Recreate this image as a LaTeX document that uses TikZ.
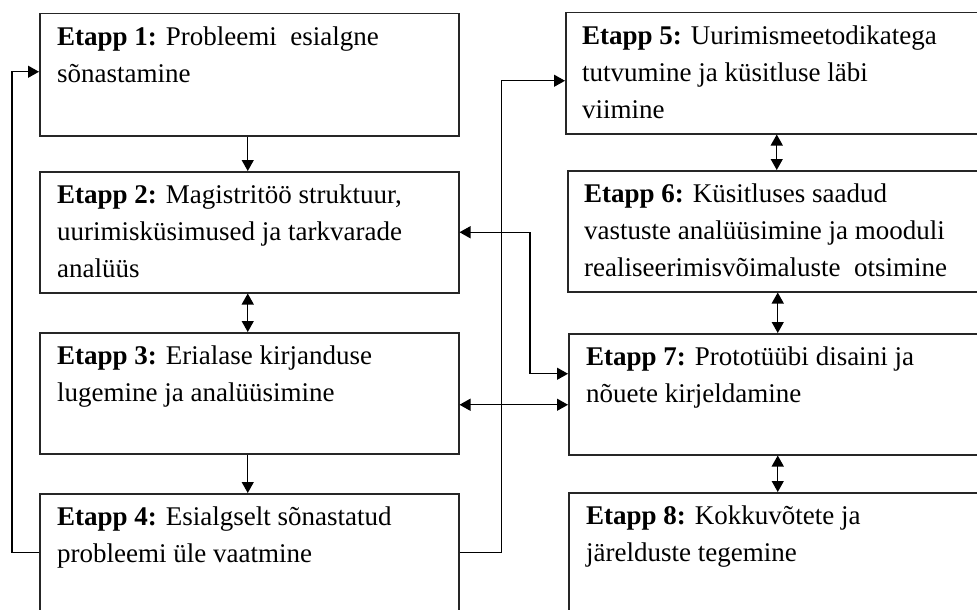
\documentclass[tikz,border=0pt]{standalone}
\usepackage{fontspec}
\setmainfont{Liberation Serif}
\usetikzlibrary{arrows.meta,calc}
\tikzset{
  box/.style={draw=black!85, line width=1.5pt, anchor=north west, minimum height=121pt, inner sep=0pt},
  boxL/.style={box, minimum width=419pt},
  boxR/.style={box, minimum width=430pt},
  txt/.style={anchor=north west, inner sep=0pt, align=left, text=black, font=\fontsize{27}{37}\selectfont},
  arr/.style={line width=1.2pt, -{Triangle[length=11pt,width=12pt]}},
  dbl/.style={line width=1.2pt, {Triangle[length=11pt,width=12pt]}-{Triangle[length=11pt,width=12pt]}}
}
\begin{document}
\begin{tikzpicture}[x=1pt,y=-1pt]
\useasboundingbox (0,0) rectangle (977,610);
\clip (0,0) rectangle (977,610);
\fill[white] (0,0) rectangle (977,610);
% boxes
\node[boxL, minimum height=122pt] (b1) at (39,13) {};
\node[boxL] (b2) at (39,171) {};
\node[boxL] (b3) at (39,332) {};
\node[boxL] (b4) at (39,493) {};
\node[boxR] (b5) at (565,12) {};
\node[boxR] (b6) at (567,170) {};
\node[boxR] (b7) at (568,333) {};
\node[boxR] (b8) at (568,492) {};
% texts
\node[txt] (t1) at ($(b1.north west)+(18,6)$) {\strut\textbf{Etapp 1:} Probleemi\ \ esialgne\\sõnastamine};
\node[txt] (t2) at ($(b2.north west)+(18,6)$) {\strut\textbf{Etapp 2:} Magistritöö struktuur,\\uurimisküsimused ja tarkvarade\\analüüs};
\node[txt] (t3) at ($(b3.north west)+(18,6)$) {\strut\textbf{Etapp 3:} Erialase kirjanduse\\lugemine ja analüüsimine};
\node[txt] (t4) at ($(b4.north west)+(18,6)$) {\strut\textbf{Etapp 4:} Esialgselt sõnastatud\\probleemi üle vaatmine};
\node[txt] (t5) at ($(b5.north west)+(17,6)$) {\strut\textbf{Etapp 5:} Uurimismeetodikatega\\tutvumine ja küsitluse läbi\\viimine};
\node[txt] (t6) at ($(b6.north west)+(17,6)$) {\strut\textbf{Etapp 6:} Küsitluses saadud\\vastuste analüüsimine ja mooduli\\realiseerimisvõimaluste\ \ otsimine};
\node[txt] (t7) at ($(b7.north west)+(18,6)$) {\strut\textbf{Etapp 7:} Prototüübi disaini ja\\nõuete kirjeldamine};
\node[txt] (t8) at ($(b8.north west)+(18,6)$) {\strut\textbf{Etapp 8:} Kokkuvõtete ja\\järelduste tegemine};
% vertical connectors, left column
\draw[arr] ([xshift=-1.5pt]b1.south) -- ([xshift=-1.5pt]b1.south |- b2.north);
\draw[dbl] ([xshift=-1.5pt]b2.south) -- ([xshift=-1.5pt]b2.south |- b3.north);
\draw[arr] ([xshift=-1.5pt]b3.south) -- ([xshift=-1.5pt]b3.south |- b4.north);
% vertical connectors, right column
\draw[dbl] ([xshift=-4pt]b5.south) -- ([xshift=-4pt]b5.south |- b6.north);
\draw[dbl] ([xshift=-5pt]b6.south) -- ([xshift=-5pt]b6.south |- b7.north);
\draw[dbl] ([xshift=-6pt]b7.south) -- ([xshift=-6pt]b7.south |- b8.north);
% loop back from 4 to 1
\draw[arr] ([yshift=1.5pt]b4.west) -- ++(-27,0) |- ([yshift=3pt]b1.west);
% 4 to 5
\draw[arr] ([yshift=1.5pt]b4.east) -- ++(42,0) |- ([yshift=-7.5pt]b5.west);
% 2 <-> 7
\draw[dbl] (b2.east) -| ([xshift=-38pt,yshift=20.5pt]b7.west) -- ([yshift=20.5pt]b7.west);
% 3 <-> 7
\draw[dbl] ([yshift=-11.5pt]b3.east) -- ([yshift=-11.5pt]b3.east -| b7.west);
\end{tikzpicture}
\end{document}
